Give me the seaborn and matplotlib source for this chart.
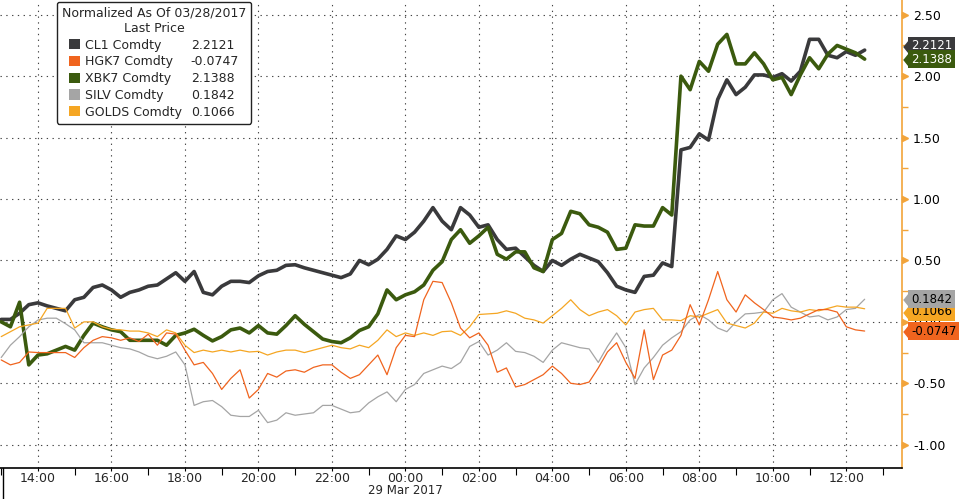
import pandas as pd
import matplotlib
matplotlib.use("Agg")
import matplotlib.pyplot as plt
import matplotlib.dates as mdates
import matplotlib.transforms as mtransforms
from matplotlib.patches import Patch
from matplotlib.lines import Line2D
from matplotlib.ticker import MultipleLocator, FormatStrFormatter
import seaborn as sns

# ── Data (normalized prices, 15 min samples) ──────────────────────────────────
times = pd.date_range("2017-03-28 13:00", periods=95, freq="15min")

cl1 = [0.02, 0.02, 0.07, 0.14, 0.155, 0.13, 0.11, 0.09, 0.18, 0.20,
       0.28, 0.30, 0.26, 0.20, 0.24, 0.26, 0.29, 0.30, 0.35, 0.40,
       0.33, 0.41, 0.24, 0.22, 0.29, 0.33, 0.33, 0.32, 0.375, 0.41,
       0.42, 0.46, 0.465, 0.44, 0.42, 0.40, 0.38, 0.36, 0.39, 0.50,
       0.465, 0.51, 0.59, 0.70, 0.67, 0.73, 0.82, 0.93, 0.82, 0.75,
       0.93, 0.87, 0.77, 0.79, 0.67, 0.59, 0.60, 0.53, 0.46, 0.41,
       0.50, 0.46, 0.51, 0.55, 0.52, 0.49, 0.40, 0.29, 0.26, 0.24,
       0.37, 0.38, 0.48, 0.45, 1.40, 1.42, 1.53, 1.48, 1.81, 1.97,
       1.85, 1.91, 2.01, 2.01, 1.99, 2.02, 1.96, 2.04, 2.30, 2.30,
       2.17, 2.15, 2.20, 2.17, 2.2121]

hgk7 = [-0.31, -0.35, -0.33, -0.245, -0.25, -0.25, -0.25, -0.25, -0.29, -0.21,
        -0.15, -0.12, -0.13, -0.15, -0.13, -0.16, -0.10, -0.19, -0.09, -0.10,
        -0.23, -0.35, -0.33, -0.42, -0.55, -0.46, -0.39, -0.62, -0.55, -0.42,
        -0.45, -0.40, -0.39, -0.41, -0.37, -0.35, -0.35, -0.41, -0.46, -0.43,
        -0.35, -0.27, -0.43, -0.21, -0.11, -0.12, 0.18, 0.33, 0.32, 0.155,
        -0.05, -0.13, -0.09, -0.19, -0.41, -0.375, -0.53, -0.51, -0.47, -0.43,
        -0.36, -0.42, -0.50, -0.51, -0.49, -0.375, -0.245, -0.17, -0.33, -0.46,
        -0.065, -0.47, -0.27, -0.23, -0.11, 0.14, -0.025, 0.18, 0.41, 0.18,
        0.08, 0.22, 0.155, 0.10, 0.04, 0.03, 0.016, 0.03, 0.065, 0.10,
        0.10, 0.08, -0.04, -0.065, -0.0747]

xbk7 = [0.0, -0.04, 0.16, -0.35, -0.27, -0.26, -0.23, -0.20, -0.23, -0.11,
        -0.01, -0.04, -0.065, -0.08, -0.15, -0.15, -0.15, -0.15, -0.19, -0.11,
        -0.09, -0.06, -0.11, -0.155, -0.12, -0.065, -0.05, -0.09, -0.03, -0.09,
        -0.10, -0.03, 0.05, -0.02, -0.08, -0.14, -0.16, -0.17, -0.13, -0.07,
        -0.04, 0.065, 0.26, 0.18, 0.22, 0.245, 0.30, 0.42, 0.49, 0.67,
        0.75, 0.64, 0.70, 0.77, 0.55, 0.51, 0.57, 0.57, 0.44, 0.41,
        0.67, 0.72, 0.90, 0.88, 0.79, 0.77, 0.73, 0.59, 0.60, 0.79,
        0.78, 0.78, 0.93, 0.87, 2.00, 1.89, 2.12, 2.04, 2.26, 2.34,
        2.10, 2.10, 2.19, 2.10, 1.97, 1.99, 1.85, 2.01, 2.15, 2.06,
        2.18, 2.25, 2.22, 2.19, 2.1388]

silv = [-0.29, -0.19, -0.12, -0.04, 0.015, 0.03, 0.03, -0.015, -0.065, -0.17,
        -0.17, -0.17, -0.19, -0.21, -0.22, -0.245, -0.28, -0.30, -0.28, -0.245,
        -0.35, -0.68, -0.65, -0.64, -0.69, -0.76, -0.77, -0.77, -0.72, -0.82,
        -0.80, -0.74, -0.76, -0.75, -0.74, -0.68, -0.68, -0.71, -0.74, -0.73,
        -0.66, -0.61, -0.57, -0.65, -0.55, -0.51, -0.42, -0.39, -0.36, -0.38,
        -0.33, -0.20, -0.16, -0.27, -0.23, -0.17, -0.24, -0.25, -0.28, -0.33,
        -0.23, -0.17, -0.19, -0.21, -0.22, -0.33, -0.20, -0.09, -0.21, -0.51,
        -0.375, -0.29, -0.19, -0.13, -0.08, 0.016, 0.06, 0.016, -0.05, -0.08,
        0.0, 0.065, 0.07, 0.08, 0.18, 0.23, 0.12, 0.08, 0.04, 0.05,
        0.016, 0.04, 0.10, 0.11, 0.1842]

golds = [-0.12, -0.08, -0.04, -0.025, -0.01, 0.11, 0.11, 0.11, -0.05, 0.0,
         0.0, -0.04, -0.06, -0.065, -0.075, -0.075, -0.09, -0.12, -0.065, -0.09,
         -0.19, -0.25, -0.23, -0.245, -0.23, -0.245, -0.23, -0.245, -0.24, -0.27,
         -0.245, -0.23, -0.23, -0.25, -0.23, -0.21, -0.19, -0.21, -0.22, -0.19,
         -0.21, -0.15, -0.065, -0.12, -0.09, -0.11, -0.09, -0.11, -0.08, -0.075,
         -0.11, -0.04, 0.06, 0.065, 0.07, 0.09, 0.07, 0.03, 0.016, -0.01,
         0.05, 0.11, 0.18, 0.10, 0.05, 0.08, 0.10, 0.05, -0.025, 0.08,
         0.10, 0.11, 0.016, 0.016, 0.01, 0.05, 0.04, 0.07, 0.10, -0.01,
         -0.03, -0.05, -0.01, 0.08, 0.07, 0.11, 0.09, 0.08, 0.10, 0.09,
         0.11, 0.13, 0.12, 0.12, 0.1066]

names       = ["CL1 Comdty", "HGK7 Comdty", "XBK7 Comdty", "SILV Comdty", "GOLDS Comdty"]
last_prices = ["2.2121", "-0.0747", "2.1388", "0.1842", "0.1066"]

colors = {"CL1 Comdty": "#3a3a3c", "HGK7 Comdty": "#f0641e", "XBK7 Comdty": "#3b5a0e",
          "SILV Comdty": "#a5a5a5", "GOLDS Comdty": "#f5a623"}
widths = {"CL1 Comdty": 2.6, "HGK7 Comdty": 0.9, "XBK7 Comdty": 2.6,
          "SILV Comdty": 0.9, "GOLDS Comdty": 0.9}
tag_text = {"CL1 Comdty": "white", "HGK7 Comdty": "black", "XBK7 Comdty": "white",
            "SILV Comdty": "black", "GOLDS Comdty": "black"}
tag_shift = {"CL1 Comdty": 3, "HGK7 Comdty": 0, "XBK7 Comdty": 0,
             "SILV Comdty": 0, "GOLDS Comdty": -2}

df = pd.DataFrame({"time": times, "CL1 Comdty": cl1, "HGK7 Comdty": hgk7,
                   "XBK7 Comdty": xbk7, "SILV Comdty": silv, "GOLDS Comdty": golds})
df = df.melt(id_vars="time", var_name="series", value_name="value")

sns.set_style("white")
plt.rcParams["font.family"] = ["DejaVu Sans"]
AXIS_ORANGE = "#f2a43a"
NARROW = ["Liberation Sans Narrow", "DejaVu Sans"]

fig = plt.figure(figsize=(9.6, 4.99), dpi=100)
ax = fig.add_axes([0.0, 0.062, 0.9396, 0.938])

# ── Lines ─────────────────────────────────────────────────────────────────────
for name in ["CL1 Comdty", "XBK7 Comdty", "SILV Comdty", "GOLDS Comdty", "HGK7 Comdty"]:
    sns.lineplot(data=df[df["series"] == name], x="time", y="value",
                 color=colors[name], linewidth=widths[name], ax=ax, legend=False)

ax.set_xlim(pd.Timestamp("2017-03-28 12:58"), pd.Timestamp("2017-03-29 13:31"))
ax.set_ylim(-1.19, 2.62)
ax.set_xlabel("")
ax.set_ylabel("")

# ── Axes styling ──────────────────────────────────────────────────────────────
ax.xaxis.set_major_locator(mdates.HourLocator(byhour=range(0, 24, 2)))
ax.xaxis.set_minor_locator(mdates.HourLocator(byhour=range(1, 24, 2)))
ax.xaxis.set_major_formatter(mdates.DateFormatter("%H:%M"))
ax.tick_params(axis="x", which="major", bottom=True, direction="out",
               length=2, width=0.8, color="black", labelsize=9, pad=1,
               labelfontfamily=NARROW)
ax.tick_params(axis="x", which="minor", bottom=True, direction="out",
               length=5, width=0.8, color="black")

ax.yaxis.tick_right()
ax.yaxis.set_major_locator(MultipleLocator(0.5))
ax.yaxis.set_minor_locator(MultipleLocator(0.25))
ax.yaxis.set_major_formatter(FormatStrFormatter("%.2f"))
ax.tick_params(axis="y", which="major", right=True, left=False, length=0,
               labelsize=9, pad=8, labelcolor="black")
ax.tick_params(axis="y", which="minor", right=True, left=False, length=4,
               width=1, color=AXIS_ORANGE)

ax.grid(True, which="major", linestyle=(0, (1.2, 4)), color="#444444", linewidth=0.8)
for side in ["top", "left"]:
    ax.spines[side].set_visible(False)
ax.spines["right"].set_color(AXIS_ORANGE)
ax.spines["right"].set_linewidth(1.2)
ax.spines["bottom"].set_color("black")
ax.spines["bottom"].set_linewidth(1.2)

# triangle markers for major y ticks
ytrans = mtransforms.blended_transform_factory(ax.transAxes, ax.transData)
tri_trans = mtransforms.offset_copy(ytrans, fig=fig, x=2.5, y=0, units="points")
for v in [-1.0, -0.5, 0.0, 0.5, 1.0, 1.5, 2.0, 2.5]:
    ax.plot([1.0], [v], marker=">", ms=5, color=AXIS_ORANGE, transform=tri_trans,
            clip_on=False, zorder=5)

# date under midnight
xtrans = mtransforms.blended_transform_factory(ax.transData, ax.transAxes)
ax.text(mdates.date2num(pd.Timestamp("2017-03-29 00:00")), -0.049, "29 Mar 2017",
        transform=xtrans, ha="center", va="center", fontsize=8.5, family=NARROW)
fig.add_artist(Line2D([0.003, 0.003], [0.0, 0.062], color="black", linewidth=1))

# ── Last price tags on the right ──────────────────────────────────────────────
tag_marker = [(-0.4, 0.0), (0.4, -1.0), (0.4, 1.0)]
for name in ["CL1 Comdty", "GOLDS Comdty", "SILV Comdty", "XBK7 Comdty", "HGK7 Comdty"]:
    idx = names.index(name)
    val = float(last_prices[idx])
    ax.annotate(last_prices[idx], xy=(1.0, val), xycoords=ytrans,
                xytext=(6.5, tag_shift[name]), textcoords="offset points",
                ha="left", va="center", fontsize=8.5, color=tag_text[name],
                bbox=dict(boxstyle="square,pad=0.22", fc=colors[name], ec="none"),
                annotation_clip=False, zorder=10)
    mtrans = mtransforms.offset_copy(ytrans, fig=fig, x=2.6, y=tag_shift[name], units="points")
    ax.plot([1.0], [val], marker=tag_marker, ms=10, color=colors[name],
            transform=mtrans, clip_on=False, zorder=10)

# ── Legend ────────────────────────────────────────────────────────────────────
handles = ([Patch(facecolor=colors[n], edgecolor="none") for n in names] +
           [Patch(facecolor="none", edgecolor="none") for _ in names])
labels = names + last_prices
leg = ax.legend(handles, labels, ncol=2, loc="upper left",
                bbox_to_anchor=(0.063, 0.996), borderaxespad=0,
                title="Normalized As Of 03/28/2017\nLast Price",
                fontsize=9, title_fontsize=9, frameon=True, fancybox=True,
                edgecolor="#222222", framealpha=1, handlelength=0.9,
                handleheight=0.9, handletextpad=0.4, columnspacing=-0.6,
                labelspacing=0.3, borderpad=0.4)
leg.get_title().set_multialignment("center")
leg.get_frame().set_linewidth(1.0)
leg.set_zorder(20)

plt.savefig("out.png", dpi=100, facecolor="white")
plt.close()
